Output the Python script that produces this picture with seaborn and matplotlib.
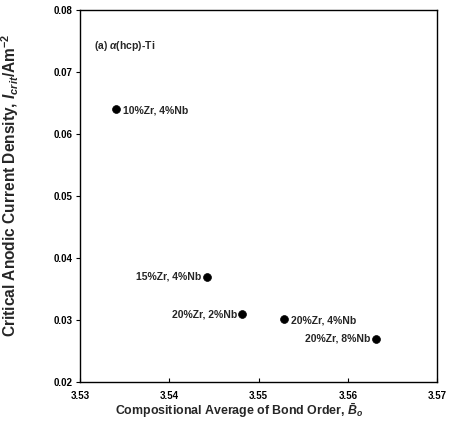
import matplotlib
matplotlib.use("Agg")
import matplotlib.pyplot as plt
import seaborn as sns
import pandas as pd

# values
bond_order = [3.534, 3.5442, 3.5482, 3.5528, 3.5631]
i_crit = [0.064, 0.037, 0.031, 0.0302, 0.027]
alloys = ['10%Zr, 4%Nb', '15%Zr, 4%Nb', '20%Zr, 2%Nb', '20%Zr, 4%Nb', '20%Zr, 8%Nb']
label_side = ['right', 'left', 'left', 'right', 'left']

df = pd.DataFrame({'bo': bond_order, 'icrit': i_crit, 'alloy': alloys})

sns.set_style("white")
plt.rcParams['font.family'] = ['Liberation Sans', 'DejaVu Sans']
plt.rcParams['font.weight'] = 'bold'
plt.rcParams['mathtext.fontset'] = 'custom'
plt.rcParams['mathtext.rm'] = 'Liberation Sans:bold'
plt.rcParams['mathtext.it'] = 'Liberation Sans:italic:bold'
plt.rcParams['mathtext.bf'] = 'Liberation Sans:bold'

fig = plt.figure(figsize=(4.54, 4.43), dpi=100)
ax = fig.add_axes([0.176, 0.137, 0.787, 0.84])

sns.scatterplot(data=df, x='bo', y='icrit', color='black', s=32,
                edgecolor='black', linewidth=0.5, ax=ax, zorder=3)

for x, y, lab, side in zip(bond_order, i_crit, alloys, label_side):
    if side == 'right':
        ax.annotate(lab, (x, y), xytext=(5, -1), textcoords='offset points',
                    ha='left', va='center', fontsize=7.5, fontweight='bold')
    else:
        ax.annotate(lab, (x, y), xytext=(-4, 0), textcoords='offset points',
                    ha='right', va='center', fontsize=7.5, fontweight='bold')

ax.text(3.5316, 0.0742, r'(a) $\alpha$(hcp)-Ti', fontsize=7.5, fontweight='bold',
        va='center', ha='left')

ax.set_xlim(3.53, 3.57)
ax.set_ylim(0.02, 0.08)
ax.set_xticks([3.53, 3.54, 3.55, 3.56, 3.57])
ax.set_yticks([0.02, 0.03, 0.04, 0.05, 0.06, 0.07, 0.08])
ax.set_xticklabels(['3.53', '3.54', '3.55', '3.56', '3.57'])
ax.set_yticklabels(['0.02', '0.03', '0.04', '0.05', '0.06', '0.07', '0.08'])
ax.tick_params(axis='y', labelsize=7, direction='out', length=3, width=0.8,
               colors='black', left=True, pad=2)
ax.tick_params(axis='x', labelsize=7, direction='in', length=3, width=0.8,
               colors='black', bottom=True, pad=6)

for sp in ax.spines.values():
    sp.set_color('black')
    sp.set_linewidth(1.0)

ax.set_xlabel(r'Compositional Average of Bond Order, $\bar{B}_o$',
              fontsize=8.9, fontweight='bold')
ax.set_ylabel(r'Critical Anodic Current Density, $I_{crit}$/Am$^{-2}$',
              fontsize=11.2, fontweight='bold')
ax.xaxis.set_label_coords(0.445, -0.05)
ax.yaxis.set_label_coords(-0.165, 0.53)

fig.savefig('out.png', dpi=100)
